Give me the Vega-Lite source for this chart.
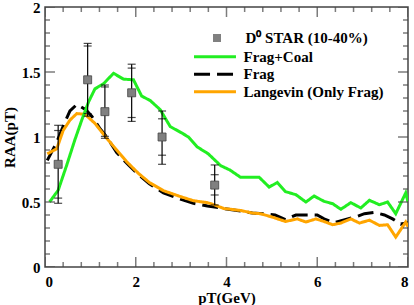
{
  "$schema": "https://vega.github.io/schema/vega-lite/v6.json",
  "width": 363,
  "height": 260,
  "autosize": "none",
  "padding": {"left": 45, "top": 7, "right": 6, "bottom": 38},
  "background": "white",
  "config": {
    "view": {"stroke": "#444", "strokeWidth": 1.5},
    "font": "Liberation Serif",
    "axis": {
      "domain": false, "ticks": false, "grid": false,
      "labelFont": "Liberation Serif", "labelFontWeight": "bold", "labelFontSize": 15, "labelColor": "black",
      "titleFont": "Liberation Serif", "titleFontWeight": "bold", "titleFontSize": 15, "titleColor": "black"
    }
  },
  "datasets": {
    "xmaj": [{"v": 0}, {"v": 2}, {"v": 4}, {"v": 6}, {"v": 8}],
    "xmin": [{"v": 0.4}, {"v": 0.8}, {"v": 1.2}, {"v": 1.6}, {"v": 2.4}, {"v": 2.8}, {"v": 3.2}, {"v": 3.6}, {"v": 4.4}, {"v": 4.8}, {"v": 5.2}, {"v": 5.6}, {"v": 6.4}, {"v": 6.8}, {"v": 7.2}, {"v": 7.6}],
    "ymaj": [{"v": 0}, {"v": 0.5}, {"v": 1}, {"v": 1.5}, {"v": 2}],
    "ymin": [{"v": 0.1}, {"v": 0.2}, {"v": 0.3}, {"v": 0.4}, {"v": 0.6}, {"v": 0.7}, {"v": 0.8}, {"v": 0.9}, {"v": 1.1}, {"v": 1.2}, {"v": 1.3}, {"v": 1.4}, {"v": 1.6}, {"v": 1.7}, {"v": 1.8}, {"v": 1.9}],
    "lines": [
      {"s": "Frag", "x": 0.05, "y": 0.82}, {"s": "Frag", "x": 0.26, "y": 0.96}, {"s": "Frag", "x": 0.42, "y": 1.1},
      {"s": "Frag", "x": 0.55, "y": 1.2}, {"s": "Frag", "x": 0.7, "y": 1.25}, {"s": "Frag", "x": 0.9, "y": 1.21},
      {"s": "Frag", "x": 1.03, "y": 1.16}, {"s": "Frag", "x": 1.2, "y": 1.07}, {"s": "Frag", "x": 1.36, "y": 1.0},
      {"s": "Frag", "x": 1.58, "y": 0.88}, {"s": "Frag", "x": 1.84, "y": 0.785}, {"s": "Frag", "x": 2.06, "y": 0.71},
      {"s": "Frag", "x": 2.3, "y": 0.64}, {"s": "Frag", "x": 2.61, "y": 0.57}, {"s": "Frag", "x": 3.0, "y": 0.52},
      {"s": "Frag", "x": 3.27, "y": 0.49}, {"s": "Frag", "x": 3.58, "y": 0.47}, {"s": "Frag", "x": 3.94, "y": 0.45},
      {"s": "Frag", "x": 4.31, "y": 0.43}, {"s": "Frag", "x": 4.57, "y": 0.415}, {"s": "Frag", "x": 4.82, "y": 0.41},
      {"s": "Frag", "x": 5.07, "y": 0.4}, {"s": "Frag", "x": 5.3, "y": 0.365}, {"s": "Frag", "x": 5.53, "y": 0.4},
      {"s": "Frag", "x": 5.71, "y": 0.4}, {"s": "Frag", "x": 6.0, "y": 0.4}, {"s": "Frag", "x": 6.15, "y": 0.37},
      {"s": "Frag", "x": 6.37, "y": 0.34}, {"s": "Frag", "x": 6.67, "y": 0.37}, {"s": "Frag", "x": 6.89, "y": 0.39},
      {"s": "Frag", "x": 7.04, "y": 0.41}, {"s": "Frag", "x": 7.26, "y": 0.42}, {"s": "Frag", "x": 7.48, "y": 0.4},
      {"s": "Frag", "x": 7.66, "y": 0.37}, {"s": "Frag", "x": 7.84, "y": 0.33}, {"s": "Frag", "x": 8.0, "y": 0.34},

      {"s": "Langevin (Only Frag)", "x": 0.05, "y": 0.87}, {"s": "Langevin (Only Frag)", "x": 0.26, "y": 0.91},
      {"s": "Langevin (Only Frag)", "x": 0.4, "y": 1.05}, {"s": "Langevin (Only Frag)", "x": 0.55, "y": 1.13},
      {"s": "Langevin (Only Frag)", "x": 0.7, "y": 1.18}, {"s": "Langevin (Only Frag)", "x": 0.88, "y": 1.175},
      {"s": "Langevin (Only Frag)", "x": 1.1, "y": 1.105}, {"s": "Langevin (Only Frag)", "x": 1.36, "y": 0.99},
      {"s": "Langevin (Only Frag)", "x": 1.58, "y": 0.9}, {"s": "Langevin (Only Frag)", "x": 1.8, "y": 0.81},
      {"s": "Langevin (Only Frag)", "x": 2.06, "y": 0.72}, {"s": "Langevin (Only Frag)", "x": 2.3, "y": 0.65},
      {"s": "Langevin (Only Frag)", "x": 2.61, "y": 0.587}, {"s": "Langevin (Only Frag)", "x": 3.0, "y": 0.54},
      {"s": "Langevin (Only Frag)", "x": 3.27, "y": 0.51}, {"s": "Langevin (Only Frag)", "x": 3.58, "y": 0.495},
      {"s": "Langevin (Only Frag)", "x": 3.72, "y": 0.48}, {"s": "Langevin (Only Frag)", "x": 3.94, "y": 0.45},
      {"s": "Langevin (Only Frag)", "x": 4.31, "y": 0.435}, {"s": "Langevin (Only Frag)", "x": 4.57, "y": 0.415},
      {"s": "Langevin (Only Frag)", "x": 4.75, "y": 0.41}, {"s": "Langevin (Only Frag)", "x": 5.0, "y": 0.385},
      {"s": "Langevin (Only Frag)", "x": 5.3, "y": 0.35}, {"s": "Langevin (Only Frag)", "x": 5.56, "y": 0.37},
      {"s": "Langevin (Only Frag)", "x": 5.75, "y": 0.346}, {"s": "Langevin (Only Frag)", "x": 5.97, "y": 0.37},
      {"s": "Langevin (Only Frag)", "x": 6.15, "y": 0.35}, {"s": "Langevin (Only Frag)", "x": 6.34, "y": 0.325},
      {"s": "Langevin (Only Frag)", "x": 6.52, "y": 0.338}, {"s": "Langevin (Only Frag)", "x": 6.74, "y": 0.37},
      {"s": "Langevin (Only Frag)", "x": 6.93, "y": 0.338}, {"s": "Langevin (Only Frag)", "x": 7.15, "y": 0.36},
      {"s": "Langevin (Only Frag)", "x": 7.37, "y": 0.32}, {"s": "Langevin (Only Frag)", "x": 7.55, "y": 0.325},
      {"s": "Langevin (Only Frag)", "x": 7.73, "y": 0.23}, {"s": "Langevin (Only Frag)", "x": 7.95, "y": 0.346},
      {"s": "Langevin (Only Frag)", "x": 8.0, "y": 0.31},

      {"s": "Frag+Coal", "x": 0.1, "y": 0.5}, {"s": "Frag+Coal", "x": 0.29, "y": 0.59}, {"s": "Frag+Coal", "x": 0.48, "y": 0.785},
      {"s": "Frag+Coal", "x": 0.66, "y": 0.98}, {"s": "Frag+Coal", "x": 0.81, "y": 1.13}, {"s": "Frag+Coal", "x": 0.96, "y": 1.27},
      {"s": "Frag+Coal", "x": 1.1, "y": 1.37}, {"s": "Frag+Coal", "x": 1.29, "y": 1.41}, {"s": "Frag+Coal", "x": 1.51, "y": 1.49},
      {"s": "Frag+Coal", "x": 1.73, "y": 1.445}, {"s": "Frag+Coal", "x": 1.95, "y": 1.44}, {"s": "Frag+Coal", "x": 2.13, "y": 1.315},
      {"s": "Frag+Coal", "x": 2.32, "y": 1.28}, {"s": "Frag+Coal", "x": 2.54, "y": 1.21}, {"s": "Frag+Coal", "x": 2.76, "y": 1.08},
      {"s": "Frag+Coal", "x": 3.02, "y": 1.03}, {"s": "Frag+Coal", "x": 3.16, "y": 1.0}, {"s": "Frag+Coal", "x": 3.35, "y": 0.925},
      {"s": "Frag+Coal", "x": 3.6, "y": 0.87}, {"s": "Frag+Coal", "x": 3.87, "y": 0.78}, {"s": "Frag+Coal", "x": 4.08, "y": 0.745},
      {"s": "Frag+Coal", "x": 4.31, "y": 0.69}, {"s": "Frag+Coal", "x": 4.72, "y": 0.69}, {"s": "Frag+Coal", "x": 4.94, "y": 0.615},
      {"s": "Frag+Coal", "x": 5.12, "y": 0.65}, {"s": "Frag+Coal", "x": 5.3, "y": 0.58}, {"s": "Frag+Coal", "x": 5.53, "y": 0.556},
      {"s": "Frag+Coal", "x": 5.75, "y": 0.5}, {"s": "Frag+Coal", "x": 5.93, "y": 0.546}, {"s": "Frag+Coal", "x": 6.15, "y": 0.505},
      {"s": "Frag+Coal", "x": 6.34, "y": 0.487}, {"s": "Frag+Coal", "x": 6.52, "y": 0.444}, {"s": "Frag+Coal", "x": 6.74, "y": 0.495},
      {"s": "Frag+Coal", "x": 6.96, "y": 0.454}, {"s": "Frag+Coal", "x": 7.15, "y": 0.513}, {"s": "Frag+Coal", "x": 7.37, "y": 0.479},
      {"s": "Frag+Coal", "x": 7.55, "y": 0.5}, {"s": "Frag+Coal", "x": 7.73, "y": 0.41}, {"s": "Frag+Coal", "x": 7.95, "y": 0.57},
      {"s": "Frag+Coal", "x": 8.0, "y": 0.5}
    ],
    "star": [
      {"x": 0.29, "y": 0.79, "lo1": 0.53, "hi1": 1.05, "lo2": 0.49, "hi2": 1.09},
      {"x": 0.94, "y": 1.44, "lo1": 1.18, "hi1": 1.70, "lo2": 1.16, "hi2": 1.72},
      {"x": 1.32, "y": 1.195, "lo1": 1.005, "hi1": 1.385, "lo2": 0.99, "hi2": 1.40},
      {"x": 1.91, "y": 1.34, "lo1": 1.15, "hi1": 1.53, "lo2": 1.12, "hi2": 1.56},
      {"x": 2.58, "y": 1.0, "lo1": 0.86, "hi1": 1.14, "lo2": 0.79, "hi2": 1.2},
      {"x": 3.74, "y": 0.63, "lo1": 0.554, "hi1": 0.71, "lo2": 0.477, "hi2": 0.785}
    ]
  },
  "layer": [
    {
      "data": {"name": "lines"},
      "mark": {"type": "line", "strokeWidth": 3, "clip": true},
      "encoding": {
        "x": {"field": "x", "type": "quantitative", "scale": {"domain": [0, 8], "nice": false},
          "axis": {"orient": "bottom", "values": [0, 2, 4, 6, 8], "labelPadding": 7, "title": "pT(GeV)", "titlePadding": 1}},
        "y": {"field": "y", "type": "quantitative", "scale": {"domain": [0, 2], "nice": false},
          "axis": {"orient": "left", "values": [0, 0.5, 1, 1.5, 2], "format": "~g", "labelPadding": 5, "title": "RAA(pT)", "titlePadding": 4}},
        "color": {"field": "s", "type": "nominal", "sort": null,
          "scale": {"domain": ["Frag+Coal", "Frag", "Langevin (Only Frag)"], "range": ["#22ee22", "#000000", "#ffa500"]},
          "legend": {"orient": "none", "legendX": 162.5, "legendY": 42.2, "title": null, "symbolType": "M-4,0H4", "symbolSize": 110,
            "symbolStrokeWidth": 3, "labelOffset": 21, "rowPadding": 1.5, "padding": 0,
            "labelFont": "Liberation Serif", "labelFontWeight": "bold", "labelFontSize": 15, "labelColor": "black"}},
        "strokeDash": {"field": "s", "type": "nominal", "sort": null,
          "scale": {"domain": ["Frag+Coal", "Frag", "Langevin (Only Frag)"], "range": [[1, 0], [16, 7], [1, 0]]},
          "legend": {"orient": "none", "legendX": 162.5, "legendY": 42.2, "title": null, "symbolType": "M-4,0H4", "symbolSize": 110,
            "symbolStrokeWidth": 3, "labelOffset": 21, "rowPadding": 1.5, "padding": 0,
            "labelFont": "Liberation Serif", "labelFontWeight": "bold", "labelFontSize": 15, "labelColor": "black"}}
      }
    },
    {
      "data": {"name": "xmaj"},
      "mark": {"type": "tick", "orient": "vertical", "size": 20, "thickness": 1.5, "color": "#444", "clip": true},
      "encoding": {"x": {"field": "v", "type": "quantitative", "axis": null}, "y": {"datum": 0, "type": "quantitative", "axis": null}}
    },
    {
      "data": {"name": "xmaj"},
      "mark": {"type": "tick", "orient": "vertical", "size": 20, "thickness": 1.5, "color": "#444", "clip": true},
      "encoding": {"x": {"field": "v", "type": "quantitative", "axis": null}, "y": {"datum": 2, "type": "quantitative", "axis": null}}
    },
    {
      "data": {"name": "xmin"},
      "mark": {"type": "tick", "orient": "vertical", "size": 10, "thickness": 1.5, "color": "#444", "clip": true},
      "encoding": {"x": {"field": "v", "type": "quantitative", "axis": null}, "y": {"datum": 0, "type": "quantitative", "axis": null}}
    },
    {
      "data": {"name": "xmin"},
      "mark": {"type": "tick", "orient": "vertical", "size": 10, "thickness": 1.5, "color": "#444", "clip": true},
      "encoding": {"x": {"field": "v", "type": "quantitative", "axis": null}, "y": {"datum": 2, "type": "quantitative", "axis": null}}
    },
    {
      "data": {"name": "ymaj"},
      "mark": {"type": "tick", "orient": "horizontal", "size": 20, "thickness": 1.5, "color": "#444", "clip": true},
      "encoding": {"y": {"field": "v", "type": "quantitative", "axis": null}, "x": {"datum": 0, "type": "quantitative", "axis": null}}
    },
    {
      "data": {"name": "ymaj"},
      "mark": {"type": "tick", "orient": "horizontal", "size": 20, "thickness": 1.5, "color": "#444", "clip": true},
      "encoding": {"y": {"field": "v", "type": "quantitative", "axis": null}, "x": {"datum": 8, "type": "quantitative", "axis": null}}
    },
    {
      "data": {"name": "ymin"},
      "mark": {"type": "tick", "orient": "horizontal", "size": 10, "thickness": 1.5, "color": "#444", "clip": true},
      "encoding": {"y": {"field": "v", "type": "quantitative", "axis": null}, "x": {"datum": 0, "type": "quantitative", "axis": null}}
    },
    {
      "data": {"name": "ymin"},
      "mark": {"type": "tick", "orient": "horizontal", "size": 10, "thickness": 1.5, "color": "#444", "clip": true},
      "encoding": {"y": {"field": "v", "type": "quantitative", "axis": null}, "x": {"datum": 8, "type": "quantitative", "axis": null}}
    },
    {
      "data": {"name": "star"},
      "mark": {"type": "rule", "color": "black", "strokeWidth": 1.2},
      "encoding": {
        "x": {"field": "x", "type": "quantitative", "axis": null},
        "y": {"field": "lo2", "type": "quantitative", "axis": null},
        "y2": {"field": "hi2"}
      }
    },
    {
      "data": {"name": "star"},
      "transform": [{"fold": ["lo1", "hi1", "lo2", "hi2"], "as": ["k", "val"]}],
      "mark": {"type": "tick", "orient": "horizontal", "size": 8, "thickness": 1.2, "color": "black"},
      "encoding": {
        "x": {"field": "x", "type": "quantitative", "axis": null},
        "y": {"field": "val", "type": "quantitative", "axis": null}
      }
    },
    {
      "data": {"name": "star"},
      "mark": {"type": "point", "shape": "square", "filled": true, "fill": "#808080", "stroke": "#444", "strokeWidth": 0.8, "size": 64, "opacity": 1},
      "encoding": {
        "x": {"field": "x", "type": "quantitative", "axis": null},
        "y": {"field": "y", "type": "quantitative", "axis": null},
        "shape": {"datum": "D⁰ STAR (10-40%)", "scale": {"range": ["square"]},
          "legend": {"orient": "none", "legendX": 164.5, "legendY": 23.5, "title": null, "symbolSize": 64,
            "symbolFillColor": "#808080", "symbolStrokeColor": "#444", "symbolStrokeWidth": 0.8, "labelOffset": 21, "padding": 0,
            "labelFont": "Liberation Serif", "labelFontWeight": "bold", "labelFontSize": 15, "labelColor": "black"}}
      }
    },
    {
      "mark": {"type": "text", "text": "Au+Au @ 200 AGeV  (10-40)%", "align": "left", "baseline": "middle",
        "font": "Liberation Serif", "fontWeight": "bold", "fontSize": 14.5, "color": "black"},
      "encoding": {
        "x": {"datum": 3.245, "type": "quantitative", "axis": null},
        "y": {"datum": 1.146, "type": "quantitative", "axis": null}
      }
    }
  ],
  "resolve": {"axis": {"x": "independent", "y": "independent"}}
}
